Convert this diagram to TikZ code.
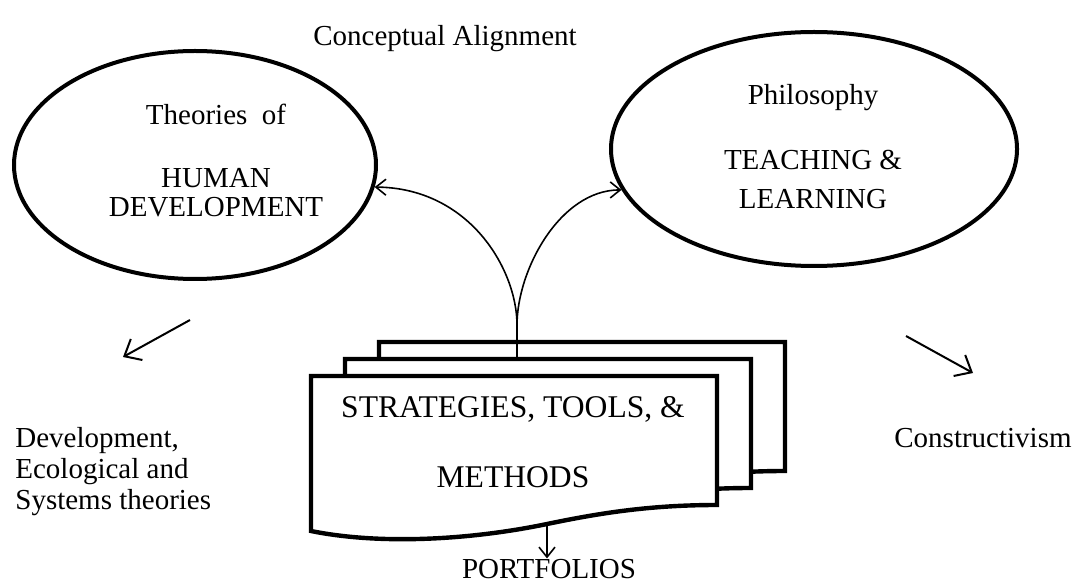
\documentclass[tikz,border=0pt]{standalone}
\usepackage{fontspec}
\setmainfont{Liberation Serif}
\usetikzlibrary{arrows.meta,shapes}
\tikzstyle{bubble}=[ellipse,draw,line width=2pt,inner sep=0pt]
\tikzstyle{txt}=[inner sep=0pt,anchor=base,font=\fontsize{14.5}{17}\selectfont]
\tikzstyle{bigtxt}=[inner sep=0pt,anchor=base,font=\fontsize{15.8}{19}\selectfont]
\tikzstyle{sheet}=[draw,fill=white,line width=2.2pt,line join=miter]
\tikzstyle{link}=[draw,line width=0.8pt,-{Straight Barb[length=5pt,width=8pt]}]
\tikzstyle{pointer}=[draw,line width=1pt,-{Straight Barb[length=7pt,width=12pt]}]

\begin{document}
\begin{tikzpicture}[x=0.5pt,y=-0.5pt]
    \useasboundingbox (0,0) rectangle (1079,582);
    % Title on top
    \node[txt] (title) at (445,46) {Conceptual Alignment};
    % The two ellipses and their texts
    \node[bubble,minimum width=181pt,minimum height=114pt] (hd) at (195,165) {};
    \node[bubble,minimum width=203pt,minimum height=117pt] (tl) at (814,149) {};
    \node[txt] (hd1) at (216,125) {Theories\ \ of};
    \node[txt] (hd2) at (216,188) {HUMAN};
    \node[txt] (hd3) at (216,217) {DEVELOPMENT};
    \node[txt] (tl1) at (813,105) {Philosophy};
    \node[txt] (tl2) at (813,170) {TEACHING \&};
    \node[txt] (tl3) at (813,209) {LEARNING};
    % Stack of sheets, back one first
    \foreach \dx/\dy in {68/-34, 34/-17, 0/0}
        \path[sheet,shift={(\dx,\dy)}] (311,376) -- (717,376) -- (717,505)
            .. controls (650,505) and (600,513) .. (547,524)
            .. controls (470,540) and (380,545) .. (311,531) -- cycle;
    \node[bigtxt] (stm1) at (513,417) {STRATEGIES, TOOLS, \&};
    \node[bigtxt] (stm2) at (513,487) {METHODS};
    % Links from the sheets up to the ellipses
    \coordinate (stem) at (517,359);
    \coordinate (fork) at (517,325);
    \draw[line width=0.8pt] (stem) -- (fork);
    \draw[link] (fork) .. controls (517,270) and (470,188) .. (hd.-7);
    \draw[link] (fork) .. controls (517,270) and (560,190) .. (tl.192);
    % Side texts and their arrows
    \node[txt,anchor=north west,align=left,font=\fontsize{14.5}{15.5}\selectfont] (sys) at (15,427)
        {Development,\\Ecological and\\Systems theories};
    \node[txt,anchor=base east] (cons) at (1072,447) {Constructivism};
    \coordinate (la) at (190,320);
    \coordinate (lb) at (123,357);
    \coordinate (ra) at (906,336);
    \coordinate (rb) at (973,373);
    \draw[pointer] (la) -- (lb);
    \draw[pointer] (ra) -- (rb);
    % Portfolios below the sheets
    \node[txt] (port) at (549,578) {PORTFOLIOS};
    \coordinate (docbot) at (547,524);
    \draw[link] (docbot) -- (docbot |- port.north);
\end{tikzpicture}
\end{document}
